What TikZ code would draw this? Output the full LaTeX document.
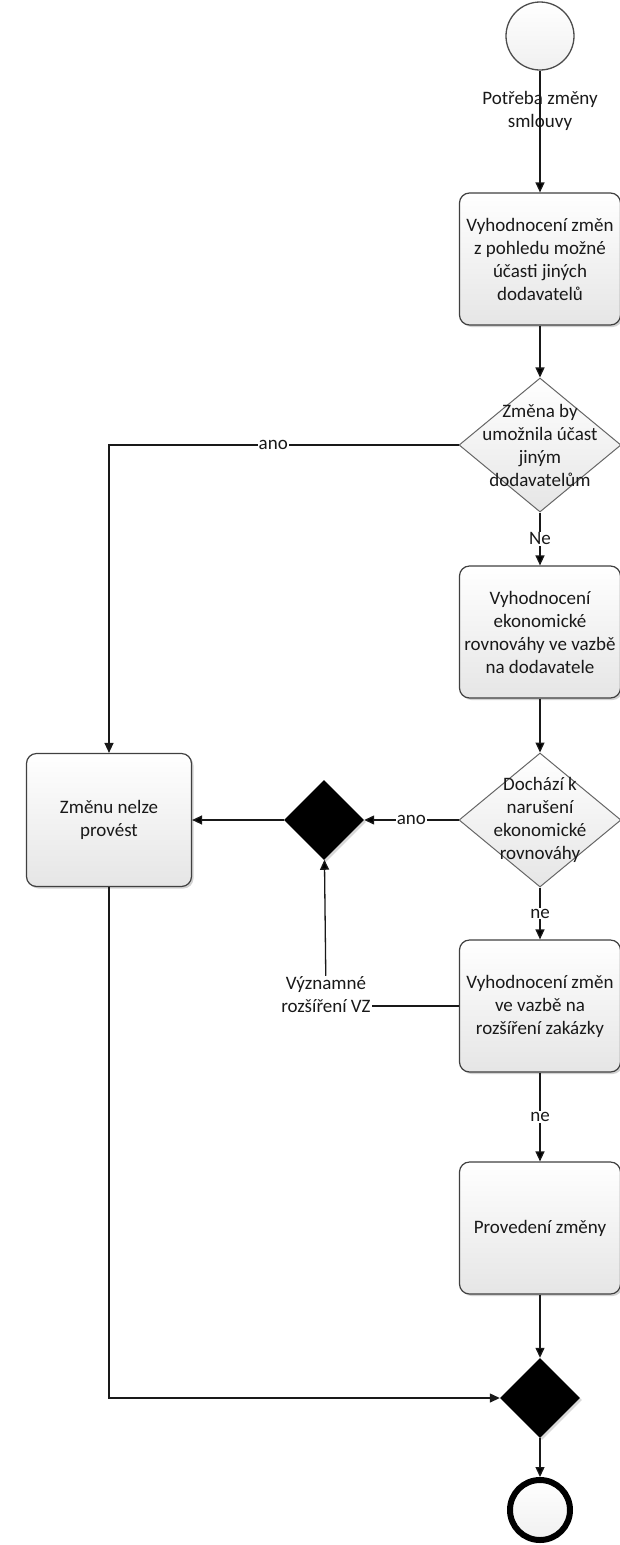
\documentclass[tikz,border=0pt]{standalone}
\usepackage{fontspec}
\setmainfont{Carlito}
\usetikzlibrary{arrows.meta,positioning,shapes.geometric,shadows}

\begin{document}
\begin{tikzpicture}[x=1pt,y=-1pt,on grid,
    >={Triangle[length=10pt,width=9pt]},
    every node/.style={font=\fontsize{19}{23}\selectfont,text=black!90},
    flow/.style={draw=black!90,line width=1.3pt},
    activity/.style={rectangle,rounded corners=10pt,draw=black!75,line width=1.2pt,
      top color=white,bottom color=black!10,minimum width=161pt,minimum height=132pt,
      align=center,drop shadow={shadow xshift=2pt,shadow yshift=-2pt,fill=black!35}},
    decision/.style={diamond,draw=black!60,line width=1pt,top color=white,
      bottom color=black!10,minimum width=162pt,minimum height=134pt,inner sep=0pt},
    merge/.style={diamond,fill=black,minimum width=80pt,minimum height=80pt,inner sep=0pt,
      drop shadow={shadow xshift=2pt,shadow yshift=-2pt,fill=black!30}},
    startev/.style={circle,draw=black!70,line width=1.3pt,top color=white,
      bottom color=black!6,minimum size=68pt},
    endev/.style={circle,draw=black,line width=6pt,top color=white,
      bottom color=black!6,minimum size=60pt},
    lbl/.style={fill=white,inner sep=1pt}]
   \useasboundingbox (0,0) rectangle (619,1545);
   \node[startev] (start) at (540,36) {};
   \node[activity] (eval1) [below=223pt of start] {Vyhodnocení změn\\z pohledu možné\\účasti jiných\\dodavatelů};
   \node[decision] (q1) [below=186pt of eval1,
     label={[align=center]center:Změna by\\umožnila účast\\jiným\\dodavatelům}] {};
   \node[activity] (eval2) [below=187pt of q1] {Vyhodnocení\\ekonomické\\rovnováhy ve vazbě\\na dodavatele};
   \node[decision] (q2) [below=188pt of eval2,
     label={[align=center]center:Dochází k\\narušení\\ekonomické\\rovnováhy}] {};
   \node[merge] (join1) [left=216pt of q2] {};
   \node[activity,minimum width=165pt,minimum height=133pt] (reject) [left=215pt of join1] {Změnu nelze\\provést};
   \node[activity] (eval3) [below=186pt of q2] {Vyhodnocení změn\\ve vazbě na\\rozšíření zakázky};
   \node[align=center,inner sep=1pt] (vz) [left=214pt of eval3,yshift=11pt] {Významné\\rozšíření VZ};
   \node[activity] (eval4) [below=222pt of eval3] {Provedení změny};
   \node[merge] (join2) [below=170pt of eval4] {};
   \node[endev] (end) [below=112pt of join2] {};

   \path[flow,->]
    (start)  edge node[pos=0.33,align=center] {Potřeba změny\\smlouvy} (eval1)
    (eval1)  edge (q1)
    (q1)     edge node[lbl] {Ne} (eval2)
    (eval2)  edge (q2)
    (q2)     edge node[lbl] {ano} (join1)
    (join1)  edge (reject)
    (q2)     edge node[lbl] {ne} (eval3)
    (eval3)  edge node[lbl] {ne} (eval4)
    (eval4)  edge (join2)
    (join2)  edge (end)
    (vz)     edge (join1);
   \draw[flow,->] (q1) -| node[lbl,pos=0.265] {ano} (reject);
   \draw[flow] (eval3) -- (eval3 -| vz.east);
   \draw[flow,->] (reject) |- (join2);
\end{tikzpicture}
\end{document}
